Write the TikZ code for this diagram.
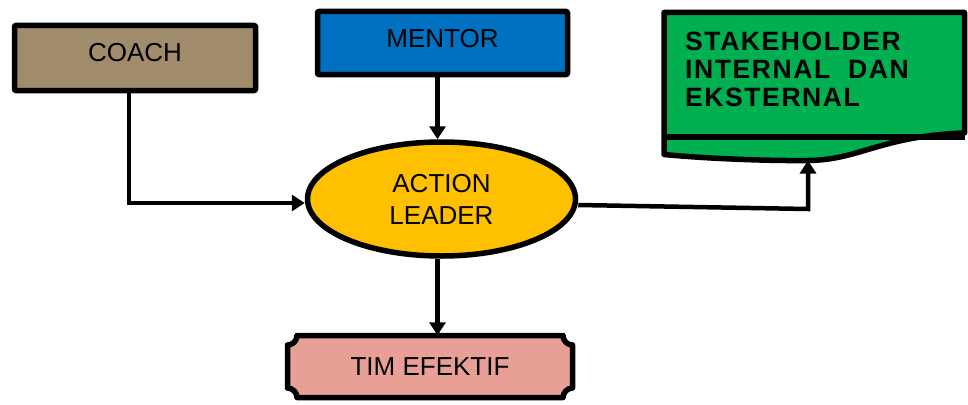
\documentclass[tikz,border=0pt]{standalone}
\usepackage{fontspec}
\setmainfont{Liberation Sans}
\newfontfamily\stakefont[LetterSpace=6.0]{Liberation Sans}
\usetikzlibrary{arrows.meta,shapes.geometric}
\definecolor{coachc}{RGB}{160,140,106}
\definecolor{mentorc}{RGB}{0,112,192}
\definecolor{leaderc}{RGB}{255,192,0}
\definecolor{stakec}{RGB}{0,176,80}
\definecolor{timc}{RGB}{232,160,150}
\begin{document}
\begin{tikzpicture}[x=1pt,y=-1pt,
  lbl/.style={font=\fontsize{26}{32}\selectfont, inner sep=0pt},
  box/.style={lbl, draw=black, line width=5.5pt, rectangle, line join=round, rounded corners=1pt},
  shapeline/.style={draw=black, line width=5.5pt, line join=round},
  conn/.style={draw=black, line width=4.5pt, -{Triangle[length=13pt,width=16pt]}},
  ]
\path[use as bounding box] (0,0) rectangle (968,404);

% boxes
\node[box, fill=coachc, minimum width=241pt, minimum height=65pt, text depth=12pt] (coach) at (135,58) {COACH};
\node[box, fill=mentorc, minimum width=250pt, minimum height=63pt, text depth=10pt] (mentor) at (442.5,43) {MENTOR};
\node[lbl, ellipse, shapeline, fill=leaderc, minimum width=268pt, minimum height=114pt, align=center] (ell) at (441.5,199) {ACTION\\LEADER};

% document shape (stakeholder)
\path[shapeline, fill=stakec] (664,12.5) -- (964.5,12.5) -- (964.5,133)
  .. controls (880,136) and (860,160) .. (808,160.5)
  .. controls (760,161) and (700,158) .. (664,154.5) -- cycle;
\draw[line width=5.5pt] (664,137) -- (964.5,137);
\node[font=\stakefont\bfseries\fontsize{26.5}{28}\selectfont, inner sep=0pt, anchor=north west, align=left] (doc) at (685,32) {STAKEHOLDER\\INTERNAL~~DAN\\EKSTERNAL};
\coordinate (docb) at (808,160.5);
\coordinate (elbow) at (808,209);

% plaque shape (tim efektif)
\path[shapeline, fill=timc]
 (297,335.5) -- (563,335.5) .. controls (563,341) and (567.5,345) .. (572.5,345)
 -- (572.5,388) .. controls (567.5,388) and (563,392.5) .. (563,397.5)
 -- (297,397.5) .. controls (297,392.5) and (292.5,388) .. (287.5,388)
 -- (287.5,345) .. controls (292.5,345) and (297,341) .. (297,335.5) -- cycle;
\node[lbl, minimum width=285pt, minimum height=62pt] (tim) at (430,366.5) {TIM EFEKTIF};

% connectors
\draw[conn] ([xshift=-6pt]coach.south) |- ([yshift=-4pt]ell.west);
\draw[conn] ([xshift=-5pt]mentor.south) -- ([xshift=-4pt]ell.north);
\draw[conn] ([xshift=-4pt]ell.south) -- ([xshift=7.5pt]tim.north);
\draw[conn] ([yshift=-6pt]ell.east) -- (elbow) -- (docb);
\end{tikzpicture}
\end{document}
